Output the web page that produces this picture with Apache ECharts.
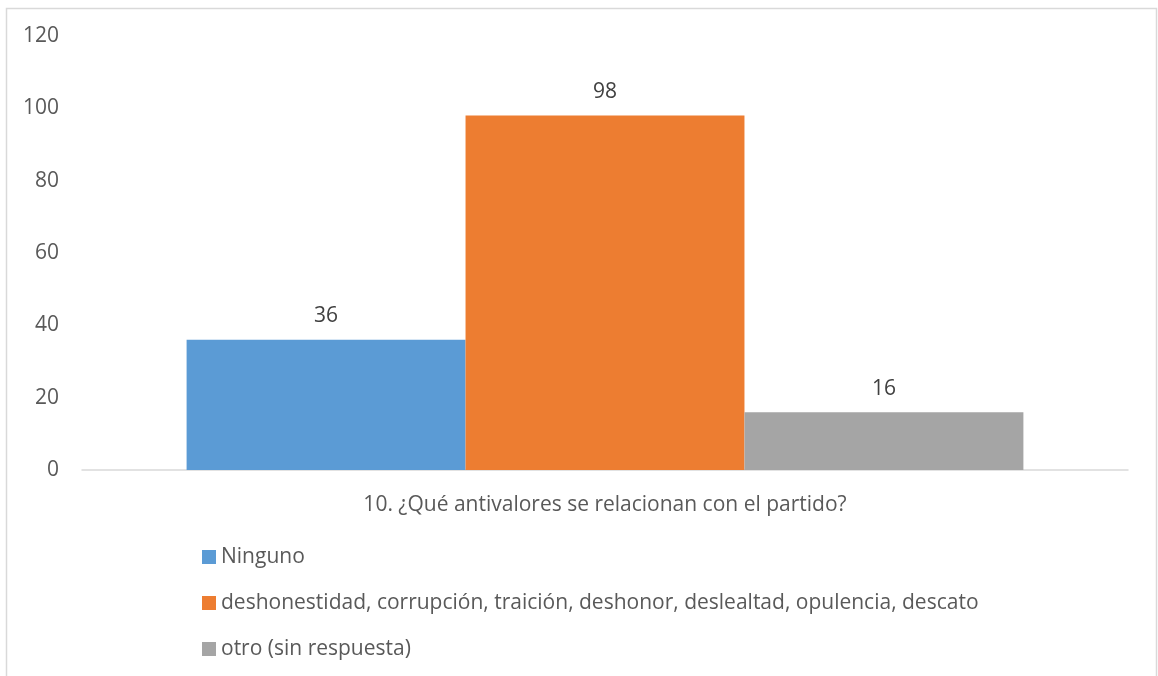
<!DOCTYPE html>
<html><head><meta charset="utf-8">
<script src="https://cdn.jsdelivr.net/npm/echarts@6/dist/echarts.min.js"></script>
<style>html,body{margin:0;padding:0;background:#fff}#c{width:1158px;height:676px}</style>
</head><body><div id="c"></div>
<script>
const categories = ['10. ¿Qué antivalores se relacionan con el partido?'];
const seriesNames = ['Ninguno', 'deshonestidad, corrupción, traición, deshonor, deslealtad, opulencia, descato', 'otro (sin respuesta)'];
const seriesValues = [[36], [98], [16]];
const seriesColors = ['#5b9bd5', '#ed7d31', '#a5a5a5'];
const yTicks = [0, 20, 40, 60, 80, 100, 120];

const font = '"Open Sans", sans-serif';
const chart = echarts.init(document.getElementById('c'), null, {renderer: 'canvas'});
chart.setOption({
  animation: false,
  textStyle: {fontFamily: font},
  graphic: [{type: 'rect', shape: {x: 6.5, y: 8.5, width: 1150, height: 700}, style: {fill: 'none', stroke: '#d9d9d9', lineWidth: 1.5}, silent: true}],
  grid: {left: 82, right: 30, top: 36, bottom: 206, containLabel: false},
  legend: {
    orient: 'vertical', left: 197, top: 540, height: 136, itemWidth: 14, itemHeight: 14, itemGap: 22,
    icon: 'rect',
    textStyle: {fontFamily: font, fontSize: 21, lineHeight: 24, color: '#595959', padding: [0, 0, 0, 0]},
    data: seriesNames
  },
  xAxis: {
    type: 'category', data: categories,
    axisLine: {lineStyle: {color: '#d9d9d9', width: 1.5}},
    axisTick: {show: false},
    axisLabel: {fontFamily: font, fontSize: 21, color: '#595959', margin: 25}
  },
  yAxis: {
    type: 'value', min: yTicks[0], max: yTicks[yTicks.length - 1], interval: 20,
    axisLine: {show: false}, axisTick: {show: false}, splitLine: {show: false},
    axisLabel: {fontFamily: font, fontSize: 21, color: '#595959', margin: 23}
  },
  series: seriesNames.map((n, i) => ({
    name: n, type: 'bar', data: seriesValues[i],
    barGap: '0%', barCategoryGap: '20%',
    itemStyle: {color: seriesColors[i]},
    label: {show: true, position: 'top', distance: 13, fontFamily: font, fontSize: 21, color: '#404040'}
  }))
});
</script></body></html>
